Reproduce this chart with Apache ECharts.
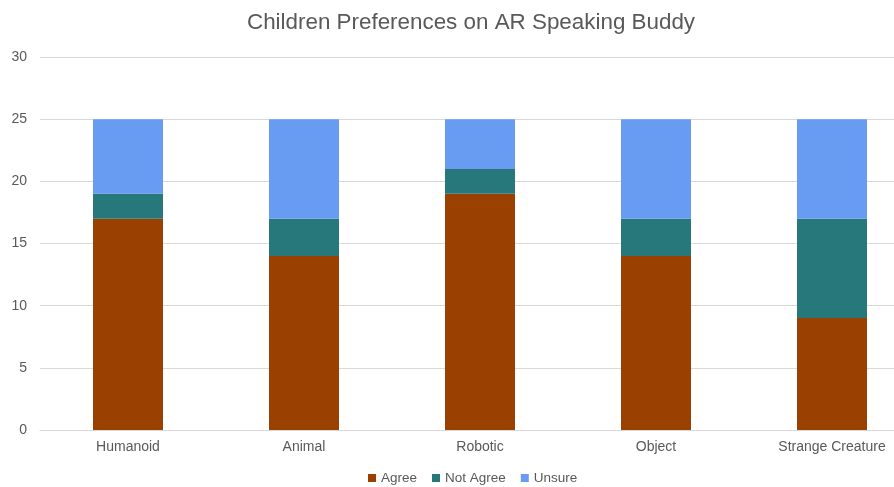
<!DOCTYPE html>
<html><head><meta charset="utf-8">
<script src="https://cdn.jsdelivr.net/npm/echarts@6/dist/echarts.min.js"></script>
<style>html,body{margin:0;padding:0;background:#fff;overflow:hidden;width:894px;height:487px}#c{width:920px;height:487px}</style>
</head><body><div id="c"></div>
<script>
const categories = ['Humanoid', 'Animal', 'Robotic', 'Object', 'Strange Creature'];
const agree = [17, 14, 19, 14, 9];
const notAgree = [2, 3, 2, 3, 8];
const unsure = [6, 8, 4, 8, 8];
const yTicks = [0, 5, 10, 15, 20, 25, 30];

const chart = echarts.init(document.getElementById('c'), null, {renderer: 'canvas'});
const font = 'Arial, "Liberation Sans", sans-serif';
chart.setOption({
  animation: false,
  title: {
    text: 'Children Preferences on AR Speaking Buddy',
    left: 466, top: 7, textAlign: 'center',
    textStyle: {fontFamily: font, fontSize: 22.4, fontWeight: 'normal', color: '#595959'}
  },
  legend: {
    left: 363, top: 466,
    itemWidth: 8, itemHeight: 8, itemGap: 15, icon: 'rect',
    textStyle: {fontFamily: font, fontSize: 13.5, color: '#595959'},
    data: ['Agree', 'Not Agree', 'Unsure']
  },
  grid: {left: 40, top: 57, right: 0, bottom: 57, containLabel: false},
  xAxis: {
    type: 'category', data: categories,
    axisLine: {lineStyle: {color: '#d9d9d9'}},
    axisTick: {show: false},
    axisLabel: {fontFamily: font, fontSize: 14, color: '#595959', margin: 10}
  },
  yAxis: {
    type: 'value', min: yTicks[0], max: yTicks[yTicks.length - 1], interval: 5,
    axisLine: {show: false}, axisTick: {show: false},
    axisLabel: {fontFamily: font, fontSize: 14, color: '#595959', margin: 13},
    splitLine: {lineStyle: {color: '#d9d9d9'}}
  },
  series: [
    {name: 'Agree', type: 'bar', stack: 's', data: agree, barWidth: 70, itemStyle: {color: '#9A4000'}},
    {name: 'Not Agree', type: 'bar', stack: 's', data: notAgree, barWidth: 70, itemStyle: {color: '#26787A'}},
    {name: 'Unsure', type: 'bar', stack: 's', data: unsure, barWidth: 70, itemStyle: {color: '#679CF2'}}
  ]
});
</script></body></html>
